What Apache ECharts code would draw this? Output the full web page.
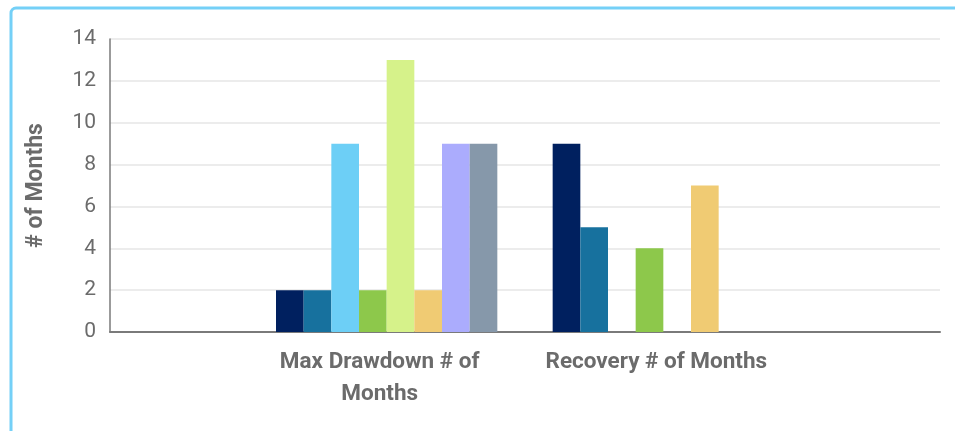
<!DOCTYPE html>
<html>
<head>
<meta charset="utf-8">
<title>Drawdown and Recovery</title>
<script src="https://cdn.jsdelivr.net/npm/echarts@6/dist/echarts.min.js"></script>
<style>
  html, body { margin: 0; padding: 0; background: #ffffff; }
  #chart { width: 955px; height: 431px; }
</style>
</head>
<body>
<div id="chart"></div>
<script>
// Category names and the wrapped labels shown under the axis
const categories = ['Max Drawdown # of Months', 'Recovery # of Months'];
const tickLabels = ['Max Drawdown # of\nMonths', 'Recovery # of Months'];

// One value per series for each category
const seriesNames = ['Series 1', 'Series 2', 'Series 3', 'Series 4', 'Series 5', 'Series 6', 'Series 7', 'Series 8'];
const maxDrawdown = [2, 2, 9, 2, 13, 2, 9, 9];
const recovery = [9, 5, 0, 4, 0, 7, 0, 0];
const seriesColors = ['#00205f', '#17719e', '#6dcff6', '#8dc84b', '#d6f28a', '#f0cb73', '#abacfd', '#8698aa'];

// Y axis ticks
const yTicks = [0, 2, 4, 6, 8, 10, 12, 14];

// Empty slots at both ends keep the two groups spaced like the original layout
const axisCats = [''].concat(categories, ['']);
const labelFor = {};
categories.forEach((c, i) => { labelFor[c] = tickLabels[i]; });

const series = seriesNames.map((name, i) => ({
  name: name,
  type: 'bar',
  data: [null, maxDrawdown[i], recovery[i], null],
  itemStyle: { color: seriesColors[i] },
  barGap: '0%',
  barCategoryGap: '20%'
}));

const chart = echarts.init(document.getElementById('chart'), null, { renderer: 'canvas' });
chart.setOption({
  animation: false,
  backgroundColor: '#ffffff',
  textStyle: { fontFamily: 'Roboto' },
  graphic: [{
    type: 'rect',
    shape: { x: 11, y: 8, width: 1000, height: 500, r: 5 },
    style: { fill: 'none', stroke: '#74d0f7', lineWidth: 3 },
    silent: true,
    z: 10
  }],
  grid: { left: 110, right: 15, top: 39, bottom: 99, containLabel: false },
  xAxis: {
    type: 'category',
    data: axisCats,
    boundaryGap: false,
    axisLine: { show: true, lineStyle: { color: '#7a7a7a', width: 2 } },
    axisTick: { show: false },
    splitLine: { show: false },
    axisLabel: {
      interval: 0,
      margin: 14,
      color: '#6b6b6b',
      fontFamily: 'Roboto',
      fontWeight: 'bold',
      fontSize: 22.5,
      lineHeight: 32,
      padding: [0, 14, 0, 0],
      formatter: v => labelFor[v] || ''
    }
  },
  yAxis: {
    type: 'value',
    min: yTicks[0],
    max: yTicks[yTicks.length - 1],
    interval: 2,
    name: '# of Months',
    nameLocation: 'middle',
    nameGap: 62,
    nameTextStyle: { color: '#6b6b6b', fontFamily: 'Roboto', fontWeight: 'bold', fontSize: 23 },
    axisLine: { show: true, lineStyle: { color: '#7a7a7a', width: 1.5 } },
    axisTick: { show: false },
    axisLabel: { color: '#6b6b6b', fontFamily: 'Roboto', fontSize: 21, margin: 14 },
    splitLine: { show: true, lineStyle: { color: '#e6e6e6', width: 1.5 } }
  },
  series: series
});
</script>
</body>
</html>
